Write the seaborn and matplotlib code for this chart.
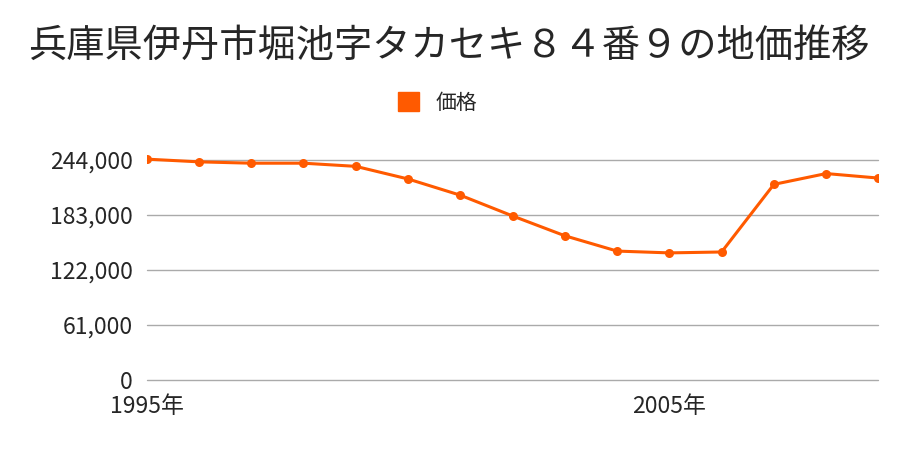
from __future__ import annotations

import matplotlib

matplotlib.use("Agg")
import matplotlib.pyplot as plt
import pandas as pd
import seaborn as sns
from matplotlib.patches import Patch

TITLE = "兵庫県伊丹市堀池字タカセキ８４番９の地価推移"
SERIES_NAME = "価格"
YEARS = [1995, 1996, 1997, 1998, 1999, 2000, 2001, 2002, 2003, 2004,
         2005, 2006, 2007, 2008, 2009]
PRICES = [245000, 242000, 240500, 240500, 237000, 223000, 205000, 182000,
          160000, 143000, 141000, 142000, 217000, 229000, 224000]
Y_TICKS = [0, 61000, 122000, 183000, 244000]
X_TICKS = [1995, 2005]
X_LABELS = ["1995年", "2005年"]

LINE_COLOR = "#ff5a00"
FONT = ["Noto Sans CJK JP", "DejaVu Sans"]


def main() -> None:
    sns.set_style("white")
    plt.rcParams["font.family"] = FONT

    df = pd.DataFrame({"year": YEARS, "price": PRICES})

    fig = plt.figure(figsize=(9, 4.5), dpi=100)
    ax = fig.add_axes([0.163, 0.1556, 0.813, 0.5208])

    for t in Y_TICKS:
        ax.axhline(t, color="#aaaaaa", lw=1, zorder=0, clip_on=False)

    sns.lineplot(data=df, x="year", y="price", ax=ax, color=LINE_COLOR,
                 lw=2.2, marker="o", markersize=6.5, markeredgewidth=0)

    ax.set_xlim(1995, 2009)
    ax.set_ylim(0, 260000)
    ax.set_yticks(Y_TICKS)
    ax.set_yticklabels([f"{v:,}" for v in Y_TICKS], fontsize=16.5)
    ax.set_xticks(X_TICKS)
    ax.set_xticklabels(X_LABELS, fontsize=16.5)
    ax.tick_params(length=0)
    ax.tick_params(axis="x", pad=11)
    ax.tick_params(axis="y", pad=10)
    ax.set_xlabel("")
    ax.set_ylabel("")
    for s in ax.spines.values():
        s.set_visible(False)

    fig.text(0.499, 0.898, TITLE, ha="center", va="center", fontsize=27.5)
    fig.legend(handles=[Patch(color=LINE_COLOR, label=SERIES_NAME)],
               loc="center", bbox_to_anchor=(0.486, 0.772), frameon=False,
               fontsize=15, handlelength=1.0, handleheight=1.0,
               handletextpad=0.8)

    fig.savefig("out.png", dpi=100)
    plt.close(fig)


if __name__ == "__main__":
    main()
